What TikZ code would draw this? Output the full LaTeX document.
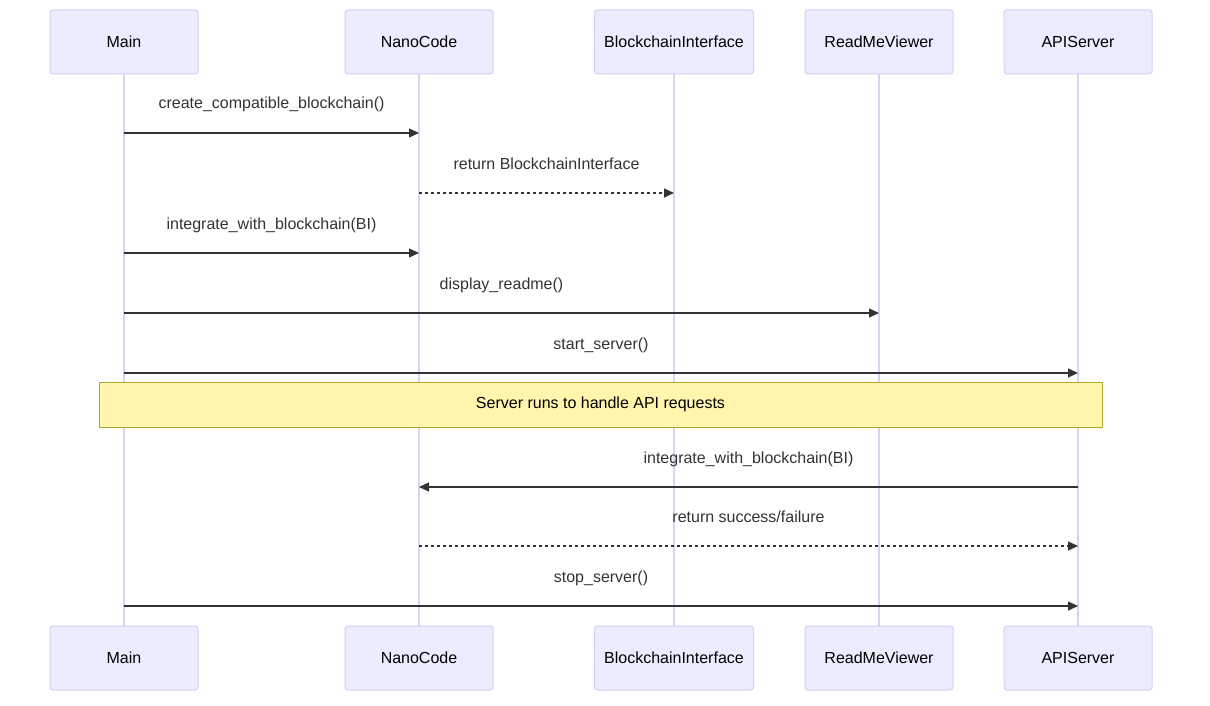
\documentclass[tikz,border=0pt]{standalone}
\usepackage{fontspec}
\setmainfont{Liberation Sans}
\usetikzlibrary{arrows.meta}

\definecolor{actorfill}{HTML}{ECECFF}
\definecolor{actorline}{HTML}{D3CFF5}
\definecolor{lifeline}{HTML}{D8D2F7}
\definecolor{msgcolor}{HTML}{333333}
\definecolor{notefill}{HTML}{FFF5AD}
\definecolor{noteline}{HTML}{AAAA33}

\tikzset{
	actor/.style={draw=actorline, fill=actorfill, line width=1pt, rounded corners=3pt,
		minimum height=64pt, inner sep=0pt, font=\fontsize{16}{19}\selectfont},
	life/.style={draw=lifeline, line width=1.5pt},
	msg/.style={draw=msgcolor, line width=1.3pt, -{Triangle[length=10pt,width=9pt]}},
	reply/.style={msg, dash pattern=on 3pt off 3pt},
	msglabel/.style={text=msgcolor, anchor=base, yshift=24pt, inner sep=0pt,
		font=\fontsize{16}{19}\selectfont},
	notebox/.style={draw=noteline, fill=notefill, line width=1pt, minimum width=1003pt,
		minimum height=45pt, text height=12pt, text depth=4pt, font=\fontsize{16}{19}\selectfont}
}

\begin{document}
\begin{tikzpicture}[x=1pt, y=-1pt]
	\useasboundingbox (0,0) rectangle (1210,706);
	% participants, top and bottom
	\foreach \name/\xpos/\boxw/\txt in {main/124/148/Main, nano/419/148/NanoCode,
		bci/674/159/BlockchainInterface, rmv/879/148/ReadMeViewer, api/1078/148/APIServer}{
		\draw[life] (\xpos, 74) -- (\xpos, 626);
		\node[actor, minimum width=\boxw pt] (\name T) at (\xpos, 42) {\txt};
		\node[actor, minimum width=\boxw pt] (\name B) at (\xpos, 658) {\txt};
	}
	% message rows
	\coordinate (r1) at (0,133);
	\coordinate (r2) at (0,193);
	\coordinate (r3) at (0,253);
	\coordinate (r4) at (0,313);
	\coordinate (r5) at (0,373);
	\coordinate (r6) at (0,487);
	\coordinate (r7) at (0,546);
	\coordinate (r8) at (0,606);

	\draw[msg] (mainT |- r1) -- node[msglabel] {create\_compatible\_blockchain()} (nanoT |- r1);
	\draw[reply] (nanoT |- r2) -- node[msglabel] {return BlockchainInterface} (bciT |- r2);
	\draw[msg] (mainT |- r3) -- node[msglabel] {integrate\_with\_blockchain(BI)} (nanoT |- r3);
	\draw[msg] (mainT |- r4) -- node[msglabel] {display\_readme()} (rmvT |- r4);
	\draw[msg] (mainT |- r5) -- node[msglabel] {start\_server()} (apiT |- r5);

	\node[notebox] (note) at (600.5, 404.5) {Server runs to handle API requests};

	\draw[msg] (apiT |- r6) -- node[msglabel] {integrate\_with\_blockchain(BI)} (nanoT |- r6);
	\draw[reply] (nanoT |- r7) -- node[msglabel] {return success/failure} (apiT |- r7);
	\draw[msg] (mainT |- r8) -- node[msglabel] {stop\_server()} (apiT |- r8);
\end{tikzpicture}
\end{document}
